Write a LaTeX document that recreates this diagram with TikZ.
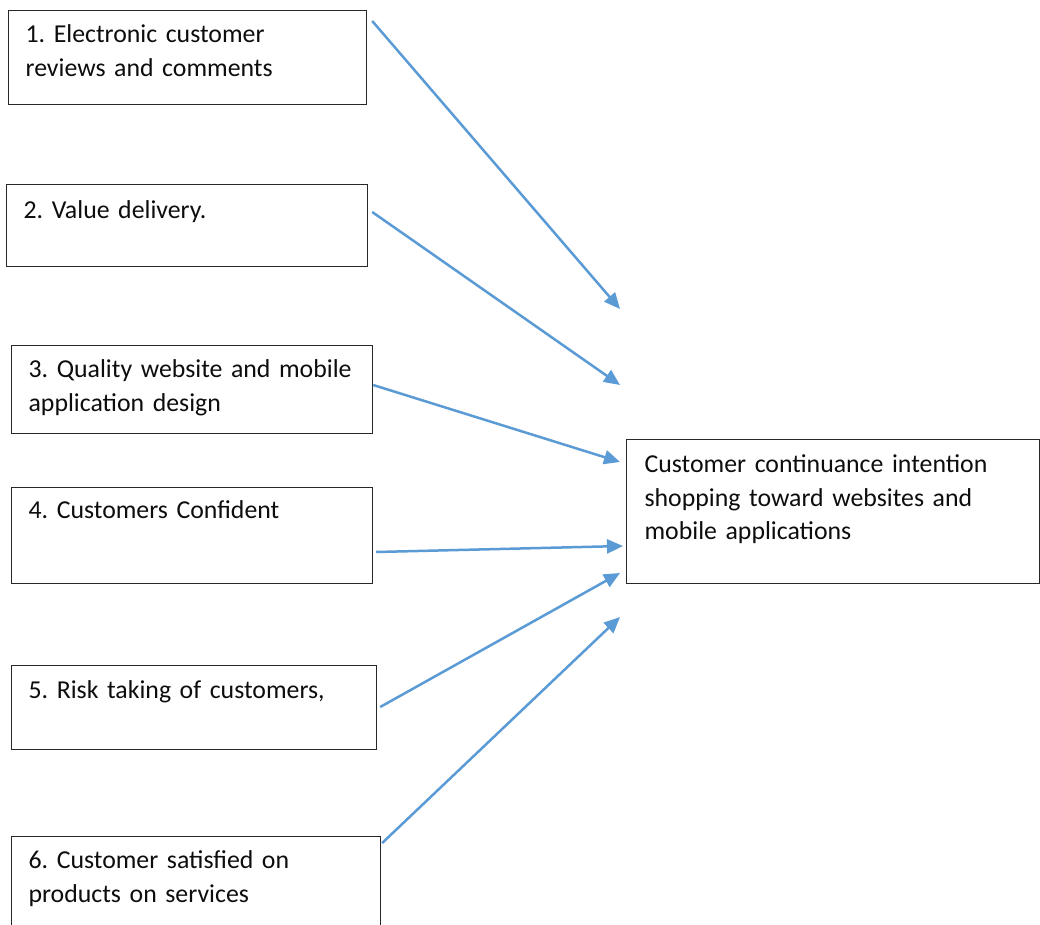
\documentclass[tikz,border=0pt]{standalone}
\usepackage{fontspec}
\setmainfont{Carlito}
\usetikzlibrary{arrows.meta}
\frenchspacing
\hyphenpenalty=10000
\definecolor{arrowblue}{RGB}{91,155,213}
\definecolor{boxline}{RGB}{40,40,40}
\tikzset{
  box/.style={draw=boxline, line width=1.2pt, inner xsep=17pt, inner ysep=0pt,
    anchor=north west, align=left, text=black!95,
    font=\fontsize{25.8}{33.5}\selectfont},
  link/.style={draw=arrowblue, line width=2.5pt,
    -{Triangle[length=16pt,width=14pt]}}
}
\begin{document}
\begin{tikzpicture}[x=1pt,y=-1pt]
\useasboundingbox (0,0) rectangle (1040,925);
\fill[white] (0,0) rectangle (1040,925);
\node[box, text width=324pt, text height=32pt, text depth=62pt] (b1) at (8,10)
  {1. Electronic customer\\reviews and comments};
\node[box, text width=327pt, text height=34pt, text depth=48pt] (b2) at (6,184)
  {2. Value delivery.};
\node[box, text width=327pt, text height=32pt, text depth=56pt] (b3) at (11,345)
  {3. Quality website and mobile\\application design};
\node[box, text width=327pt, text height=31pt, text depth=65pt] (b4) at (11,487)
  {4. Customers Confident};
\node[box, text width=331pt, text height=33pt, text depth=51pt] (b5) at (11,665)
  {5. Risk taking of customers,};
\node[box, text width=335pt, text height=32pt, text depth=100pt] (b6) at (11,836)
  {6. Customer satisfied on\\products on services};
\node[box, inner xsep=18pt, text width=377pt, text height=33pt, text depth=111pt] (t) at (626,439)
  {Customer continuance intention\\shopping toward websites and\\mobile applications};
\coordinate (e1) at (620,309);
\coordinate (e2) at (620,385);
\coordinate (e3) at (620,462);
\coordinate (e4) at (623,546);
\coordinate (e5) at (620,573);
\coordinate (e6) at (620,617);
\draw[link] ([shift={(5,11)}]b1.north east) -- (e1);
\draw[link] ([shift={(4,28)}]b2.north east) -- (e2);
\draw[link] ([shift={(0,40)}]b3.north east) -- (e3);
\draw[link] ([shift={(3,65)}]b4.north east) -- (e4);
\draw[link] ([shift={(3,42)}]b5.north east) -- (e5);
\draw[link] ([shift={(1,7)}]b6.north east) -- (e6);
\end{tikzpicture}
\end{document}
